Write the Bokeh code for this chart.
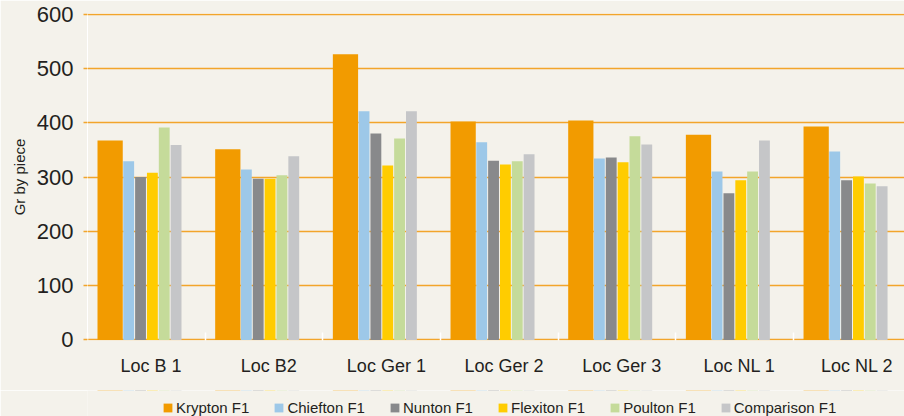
from bokeh.plotting import figure
from bokeh.layouts import column
from bokeh.models import (ColumnDataSource, Range1d, FixedTicker, Legend, LegendItem)
from bokeh.embed import file_html
from bokeh.resources import INLINE

categories = ["Loc B 1", "Loc B2", "Loc Ger 1", "Loc Ger 2", "Loc Ger 3", "Loc NL 1", "Loc NL 2"]
series_names = ["Krypton F1", "Chiefton F1", "Nunton F1", "Flexiton F1", "Poulton F1", "Comparison F1"]
krypton = [367, 351, 526, 402, 404, 378, 393]
chiefton = [329, 314, 421, 364, 334, 310, 347]
nunton = [300, 297, 380, 330, 336, 270, 294]
flexiton = [308, 297, 321, 323, 327, 294, 301]
poulton = [391, 303, 371, 329, 375, 310, 288]
comparison = [359, 338, 421, 342, 360, 367, 283]
y_ticks = [0, 100, 200, 300, 400, 500, 600]

colors = ["#F29B00", "#9DC8E8", "#88898B", "#FFCC00", "#C5DB9A", "#C5C6C8"]
values = [krypton, chiefton, nunton, flexiton, poulton, comparison]

# layout of bars inside each group (group width = 1 unit)
offsets = [0.1923, 0.3500, 0.4507, 0.5514, 0.6521, 0.7528]
widths = [0.2146, 0.0922, 0.0922, 0.0922, 0.0922, 0.0922]

BG = "#F4F2EB"
TXT = "#231F20"
GRID = "#F2A52B"
FONT = "Liberation Sans"

p = figure(frame_width=817, frame_height=327, output_backend="svg", toolbar_location=None,
           x_range=Range1d(0, 6.943), y_range=Range1d(-1, 601),
           min_border_left=87, min_border_right=0, min_border_top=13, min_border_bottom=50,
           background_fill_color=BG, border_fill_color=BG, outline_line_color=None)

for name, vals, off, w, c in zip(series_names, values, offsets, widths, colors):
    src = ColumnDataSource(dict(x=[i + off for i in range(len(categories))], top=vals))
    p.vbar(x="x", top="top", bottom=0, width=w, source=src, fill_color=c, line_color=None)

# grid
p.xgrid.grid_line_color = None
p.ygrid.ticker = FixedTicker(ticks=y_ticks)
p.ygrid.grid_line_color = GRID
p.ygrid.grid_line_width = 1.5

# y axis
p.yaxis.ticker = FixedTicker(ticks=y_ticks)
p.yaxis.axis_line_color = "white"
p.yaxis.axis_line_width = 1
p.yaxis.major_tick_in = 0
p.yaxis.major_tick_out = 4
p.yaxis.major_tick_line_color = GRID
p.yaxis.major_tick_line_width = 1.5
p.yaxis.minor_tick_line_color = None
p.yaxis.major_label_text_font = FONT
p.yaxis.major_label_text_font_size = "22px"
p.yaxis.major_label_text_color = TXT
p.yaxis.major_label_standoff = 10
p.yaxis.axis_label = "Gr by piece"
p.yaxis.axis_label_text_font = FONT
p.yaxis.axis_label_text_font_size = "15px"
p.yaxis.axis_label_text_font_style = "normal"
p.yaxis.axis_label_text_color = TXT
p.yaxis.axis_label_standoff = 6

# x axis: labels at group centres, white minor ticks at group boundaries
label_pos = [i + 0.54 for i in range(len(categories))]
p.xaxis.ticker = FixedTicker(ticks=label_pos, minor_ticks=list(range(len(categories))))
p.xaxis.major_label_overrides = {lp: c for lp, c in zip(label_pos, categories)}
p.xaxis.axis_line_color = None
p.xaxis.major_tick_line_color = None
p.xaxis.minor_tick_line_color = "white"
p.xaxis.minor_tick_in = 8
p.xaxis.minor_tick_out = 0
p.xaxis.minor_tick_line_width = 1.5
p.xaxis.major_label_text_font = FONT
p.xaxis.major_label_text_font_size = "18px"
p.xaxis.major_label_text_color = TXT
p.xaxis.major_label_standoff = 9

# legend strip below the chart (its frame is aligned with the chart's frame)
p2 = figure(frame_width=817, height=26, output_backend="svg", toolbar_location=None,
            x_range=Range1d(0, 6.943), y_range=Range1d(-2, -1),
            min_border_left=87, min_border_right=0, min_border_top=0, min_border_bottom=0,
            background_fill_color=BG, border_fill_color=BG, outline_line_color=None)
p2.axis.visible = False
p2.grid.visible = False
proxies = []
for vals, off, w, c in zip(values, offsets, widths, colors):
    src = ColumnDataSource(dict(x=[i + off for i in range(len(categories))], top=vals))
    # same series, drawn outside the strip's visible range: only used for legend swatches
    proxies.append(p2.vbar(x="x", top="top", bottom=0, width=w, source=src,
                           fill_color=c, line_color=None))

legend = Legend(items=[LegendItem(label=n, renderers=[r]) for n, r in zip(series_names, proxies)],
                orientation="horizontal", location=(75, 0),
                glyph_width=11, glyph_height=11, label_height=15, label_standoff=3, spacing=24,
                padding=0, margin=0, background_fill_alpha=0, border_line_color=None,
                label_text_font=FONT, label_text_font_size="15px", label_text_color=TXT)
p2.add_layout(legend, "center")

layout = column(p, p2, spacing=0)
open("out.html", "w").write(file_html(layout, INLINE))
